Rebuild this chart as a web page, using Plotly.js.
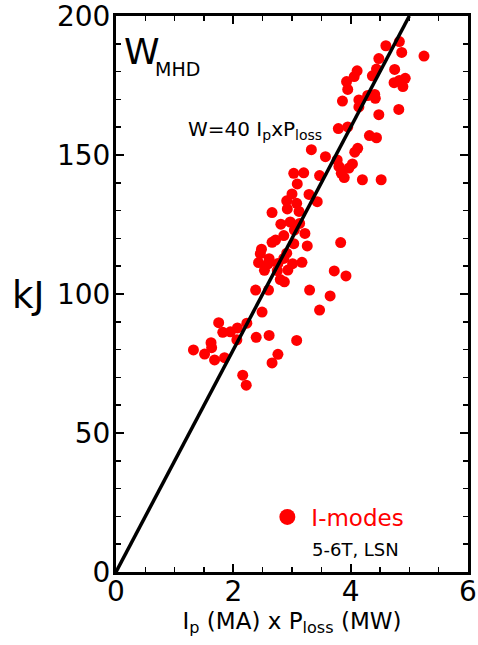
<!DOCTYPE html>
<html>
<head>
<meta charset="utf-8">
<script src="https://cdn.plot.ly/plotly-3.0.1.min.js"></script>
<style>html,body{margin:0;padding:0;background:#fff;}#chart{width:478px;height:645px;}</style>
</head>
<body>
<div id="chart"></div>
<script>
// I-mode data: Ip (MA) x Ploss (MW) vs W_MHD (kJ)
const ipPloss = [
 4.83,4.60,4.87,5.25,4.48,4.11,4.44,4.75,4.06,4.37,3.93,4.93,4.83,4.74,4.89,3.95,4.29,4.41,4.42,3.86,
 4.14,4.14,4.82,4.48,3.79,3.95,4.32,4.44,3.33,4.12,4.07,3.57,3.77,4.03,3.97,3.80,3.84,3.89,4.20,4.52,
 3.47,3.20,3.03,3.09,3.29,3.00,3.43,2.91,3.08,2.92,3.12,2.66,2.81,2.97,3.13,3.04,3.22,2.86,2.72,2.66,
 3.03,3.26,3.83,2.48,2.46,2.91,2.86,2.61,2.43,2.59,2.76,3.01,3.17,2.53,2.75,2.93,3.72,3.92,2.80,2.87,
 2.38,2.60,3.30,3.65,3.47,2.49,1.75,2.23,2.07,1.95,1.82,2.39,2.61,3.08,2.06,1.62,1.63,1.32,1.51,1.68,
 1.85,2.76,2.66,2.16,2.22
];
const wMHD = [
 190.8,189.3,186.9,185.6,184.7,180.3,180.9,180.8,178.2,178.5,176.4,177.6,176.8,176.0,174.6,173.6,171.4,171.8,170.4,169.4,
 169.8,167.3,166.4,164.5,159.5,160.1,157.0,156.2,151.9,152.4,151.0,149.4,148.2,146.8,145.3,145.9,143.4,141.9,141.1,141.1,
 142.6,143.6,143.4,139.6,135.8,136.0,133.2,133.5,132.6,130.6,129.7,129.3,125.1,125.9,125.4,123.0,121.8,121.0,119.4,118.6,
 118.1,117.3,118.5,116.1,114.5,114.7,112.8,112.7,111.3,110.8,111.0,110.9,111.4,108.5,108.4,108.6,108.3,106.5,105.2,104.4,
 101.4,101.4,101.4,99.3,94.2,93.5,89.7,89.5,87.8,86.4,86.2,84.4,85.1,83.3,83.5,82.5,80.7,79.9,78.4,76.3,
 77.1,78.3,75.2,70.8,67.2
];
// Scaling line W = 40 Ip x Ploss
const fitX = [0, 5];
const fitY = [0, 200];
const xTicks = [0, 2, 4, 6];
const yTicks = [0, 50, 100, 150, 200];

const FONT = 'DejaVu Sans, Verdana, sans-serif';

const traces = [
  {
    x: ipPloss, y: wMHD, type: 'scatter', mode: 'markers',
    marker: {color: '#ff0000', size: 11},
    name: 'I-modes', legendgroup: 'im', showlegend: false, hoverinfo: 'x+y'
  },
  {
    x: [null], y: [null], type: 'scatter', mode: 'markers',
    marker: {color: '#ff0000', size: 17},
    name: 'I-modes', legendgroup: 'im', showlegend: true
  },
  {
    x: fitX, y: fitY, type: 'scatter', mode: 'lines',
    line: {color: '#000', width: 3.5},
    showlegend: false, hoverinfo: 'skip'
  }
];

const axisCommon = {
  showgrid: false, zeroline: false,
  showline: true, linecolor: '#000', linewidth: 3,
  mirror: 'allticks', ticks: 'inside', ticklen: 8, tickwidth: 2, tickcolor: '#000',
  ticklabeloverflow: 'allow',
  tickfont: {family: FONT, size: 28, color: '#000'}
};

const layout = {
  width: 478, height: 645,
  margin: {l: 116, r: 10, t: 16, b: 73},
  paper_bgcolor: '#fff', plot_bgcolor: '#fff',
  font: {family: FONT, color: '#000'},
  xaxis: Object.assign({}, axisCommon, {
    range: [0, 6], tickvals: xTicks, ticktext: xTicks.map(String),
    ticklabelstandoff: -8,
    minor: {dtick: 0.5, ticks: 'inside', ticklen: 5, tickwidth: 1.5, tickcolor: '#000'},
    title: {text: 'I<sub>p</sub> (MA) x P<sub>loss</sub> (MW)', font: {family: FONT, size: 23, color: '#000'}, standoff: 4}
  }),
  yaxis: Object.assign({}, axisCommon, {
    range: [0, 200], tickvals: yTicks, ticktext: yTicks.map(String),
    ticklabelstandoff: -3,
    minor: {dtick: 10, ticks: 'inside', ticklen: 5, tickwidth: 1.5, tickcolor: '#000'}
  }),
  showlegend: true,
  legend: {
    x: 0.4186, y: 0.099, xanchor: 'left', yanchor: 'middle',
    itemwidth: 38,
    bgcolor: 'rgba(0,0,0,0)', borderwidth: 0,
    font: {family: FONT, size: 23, color: '#ff0000'}
  },
  annotations: [
    {xref: 'paper', yref: 'paper', x: -0.25, y: 0.498, xanchor: 'center', yanchor: 'middle',
     text: 'kJ', showarrow: false, font: {family: FONT, size: 37, color: '#000'}},
    {xref: 'paper', yref: 'paper', x: 0.018, y: 0.976, xanchor: 'left', yanchor: 'top',
     text: 'W', showarrow: false, font: {family: FONT, size: 36, color: '#000'}},
    {xref: 'paper', yref: 'paper', x: 0.105, y: 0.928, xanchor: 'left', yanchor: 'top',
     text: 'MHD', showarrow: false, font: {family: FONT, size: 19, color: '#000'}},
    {xref: 'paper', yref: 'paper', x: 0.2, y: 0.795, xanchor: 'left', yanchor: 'middle',
     text: 'W=40 I<sub>p</sub>xP<sub>loss</sub>', showarrow: false, font: {family: FONT, size: 20, color: '#000'}},
    {xref: 'paper', yref: 'paper', x: 0.551, y: 0.041, xanchor: 'left', yanchor: 'middle',
     text: '5-6T, LSN', showarrow: false, font: {family: FONT, size: 18, color: '#000'}}
  ]
};

Plotly.newPlot('chart', traces, layout, {displayModeBar: false, staticPlot: true});
</script>
</body>
</html>
